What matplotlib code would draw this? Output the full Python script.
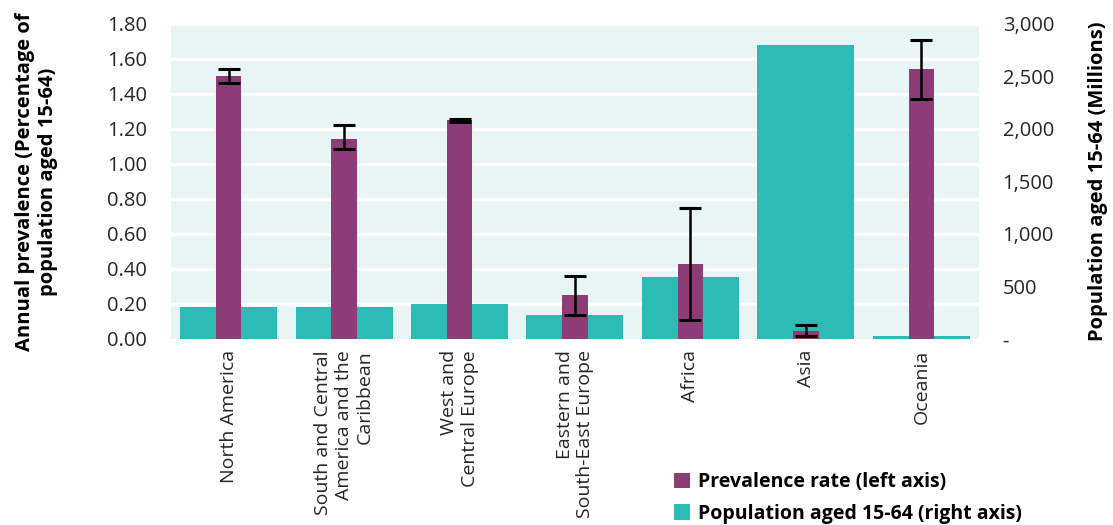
import matplotlib
matplotlib.use("Agg")
import matplotlib.pyplot as plt
import matplotlib.transforms as mtransforms
from matplotlib.patches import Patch
import numpy as np

# data
regions = [
    "North America",
    "South and Central\nAmerica and the\nCaribbean",
    "West and\nCentral Europe",
    "Eastern and\nSouth-East Europe",
    "Africa",
    "Asia",
    "Oceania",
]
prevalence = [1.50, 1.14, 1.25, 0.25, 0.43, 0.046, 1.54]
prev_low = [1.465, 1.086, 1.238, 0.139, 0.11, 0.019, 1.373]
prev_high = [1.543, 1.223, 1.255, 0.361, 0.75, 0.08, 1.709]
population = [308, 308, 336, 230, 590, 2800, 29]

left_ticks = [0.0, 0.2, 0.4, 0.6, 0.8, 1.0, 1.2, 1.4, 1.6, 1.8]
right_ticks = [0, 500, 1000, 1500, 2000, 2500, 3000]
right_labels = ["-", "500", "1,000", "1,500", "2,000", "2,500", "3,000"]

PURPLE = "#8E3C77"
TEAL = "#2CBBB5"
BG = "#E9F5F5"
TXT = "#262626"

plt.rcParams["font.family"] = ["Open Sans", "DejaVu Sans"]

fig = plt.figure(figsize=(11.13, 5.25), dpi=100)
ax = fig.add_axes([0.1536, 0.3543, 0.7260, 0.6000])
ax2 = ax.twinx()

x = np.arange(len(regions))

# ax2 sits underneath: background, grid, population bars
ax.set_zorder(ax2.get_zorder() + 1)
ax.patch.set_visible(False)
ax2.patch.set_visible(True)
ax2.patch.set_facecolor(BG)

trans = mtransforms.blended_transform_factory(ax2.transAxes, ax.transData)
for t in left_ticks[1:]:
    ax2.plot([0, 1], [t, t], color="white", linewidth=2.5, transform=trans, zorder=0.5)

ax2.bar(x, population, width=0.84, color=TEAL, zorder=2)
ax2.set_ylim(0, 3000)
ax2.set_yticks(right_ticks)
ax2.set_yticklabels(right_labels)

# prevalence with error bars on top
ax.bar(x, prevalence, width=0.22, color=PURPLE, zorder=3)
yerr = np.array([np.array(prevalence) - np.array(prev_low),
                 np.array(prev_high) - np.array(prevalence)])
ax.errorbar(x, prevalence, yerr=yerr, fmt="none", ecolor="black",
            elinewidth=1.8, capsize=8, capthick=2.2, zorder=4)

ax.set_xlim(-0.5, len(regions) - 0.5)
ax.set_ylim(0, 1.8)
ax.set_yticks(left_ticks)
ax.set_yticklabels([f"{t:.2f}" for t in left_ticks])
ax.set_xticks(x)
ax.set_xticklabels(regions, rotation=90, ha="center", va="top",
                   multialignment="right", fontsize=14, color=TXT)

for a in (ax, ax2):
    for s in a.spines.values():
        s.set_visible(False)
    a.tick_params(length=0, colors=TXT)
ax.tick_params(axis="y", pad=17, labelsize=14.5)
ax.tick_params(axis="x", pad=8)
ax2.tick_params(axis="y", pad=17, labelsize=14.5)

ax.set_ylabel("Annual prevalence (Percentage of\npopulation aged 15-64)",
              fontsize=14.5, fontweight="bold", color="black")
ax.yaxis.label.set_va("center")
ax.yaxis.set_label_coords(-0.166, 0.5)
ax2.set_ylabel("Population aged 15-64 (Millions)",
               fontsize=14.5, fontweight="bold", color="black")
ax2.yaxis.label.set_va("center")
ax2.yaxis.set_label_coords(1.147, 0.5)

handles = [Patch(facecolor=PURPLE, label="Prevalence rate (left axis)"),
           Patch(facecolor=TEAL, label="Population aged 15-64 (right axis)")]
fig.legend(handles=handles, loc="lower left", bbox_to_anchor=(0.590, -0.031),
           frameon=False, handlelength=0.82, handleheight=0.82,
           handletextpad=0.4, labelspacing=0.6,
           prop={"weight": "bold", "size": 14})

fig.savefig("out.png", dpi=100)
